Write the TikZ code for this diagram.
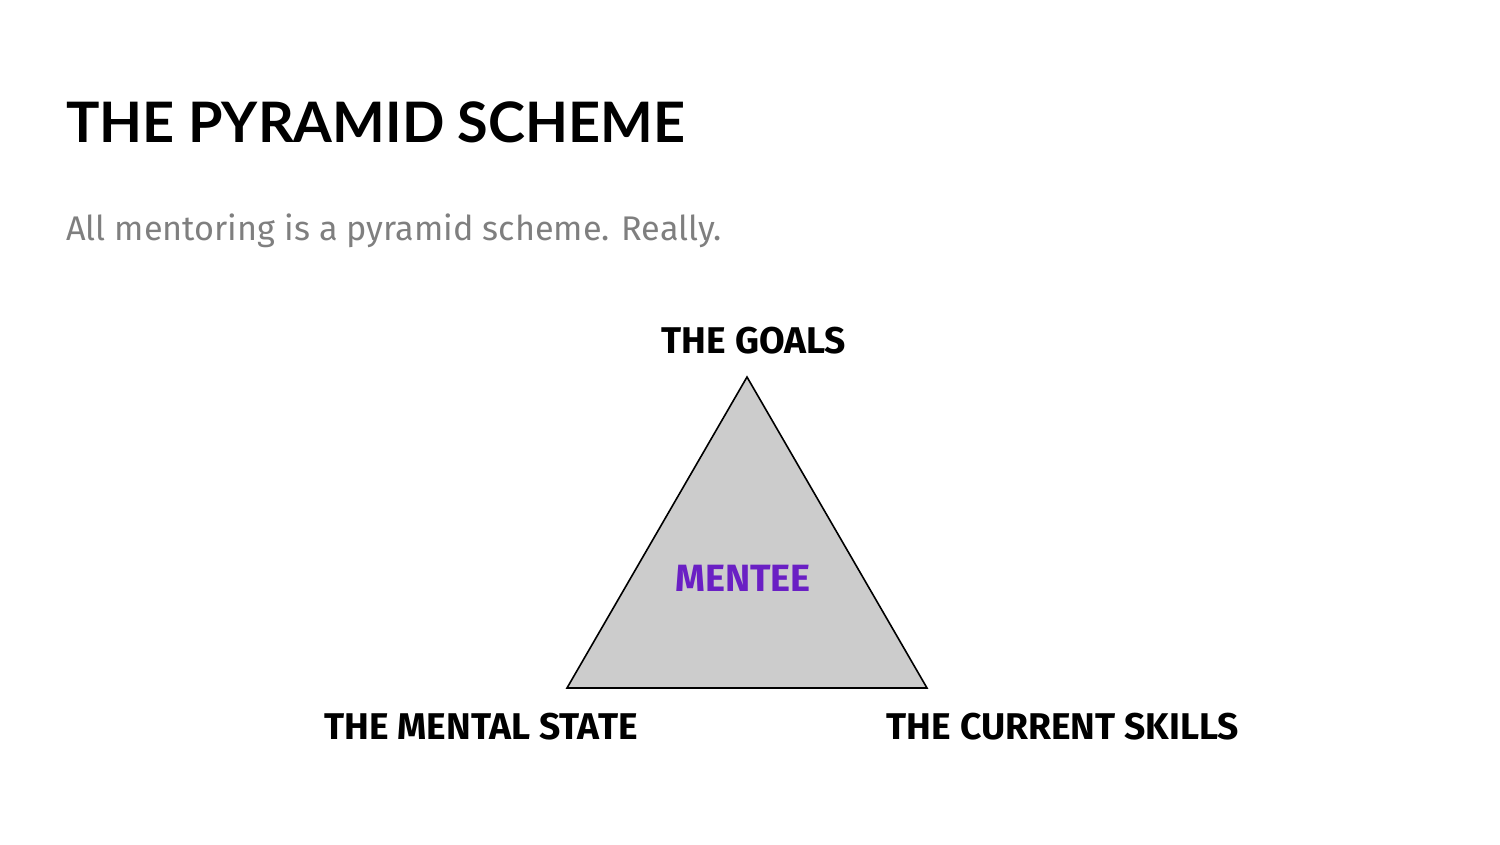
\documentclass[tikz,border=0pt]{standalone}
\usepackage{fontspec}
\setmainfont{Fira Sans}
\newfontfamily\titlefont{Lato}
\definecolor{subgray}{HTML}{7F7F7F}
\definecolor{pyrfill}{HTML}{CCCCCC}
\definecolor{mpurple}{HTML}{6A1FC4}
\begin{document}
\begin{tikzpicture}[x=1pt,y=-1pt,
  title/.style={anchor=base west,inner sep=0pt,font=\titlefont\bfseries\fontsize{55.8}{60}\selectfont},
  subtitle/.style={anchor=base west,inner sep=0pt,text=subgray,font=\fontsize{34.2}{40}\selectfont},
  corner/.style={inner sep=0pt,font=\bfseries\fontsize{37.2}{40}\selectfont},
  pyr/.style={draw=black,fill=pyrfill,line width=1.6pt,line join=miter}]
\useasboundingbox (0,0) rectangle (1500,844);
\node[title] (t) at (66,142) {THE PYRAMID SCHEME};
\node[subtitle] (s) at (66,240) {All mentoring is a pyramid scheme. Really.};
\coordinate (apex) at (747,377);
\coordinate (bl) at (567,688);
\coordinate (br) at (927,688);
\draw[pyr] (apex) -- (br) -- (bl) -- cycle;
\node[inner sep=0pt,text=mpurple,font=\bfseries\fontsize{38}{40}\selectfont] (m) at (743,578) {MENTEE};
\node[corner] (g) at (754,341) {THE GOALS};
\node[corner] (ms) at (481,727) {THE MENTAL STATE};
\node[corner] (cs) at (1063,727) {THE CURRENT SKILLS};
\end{tikzpicture}
\end{document}
